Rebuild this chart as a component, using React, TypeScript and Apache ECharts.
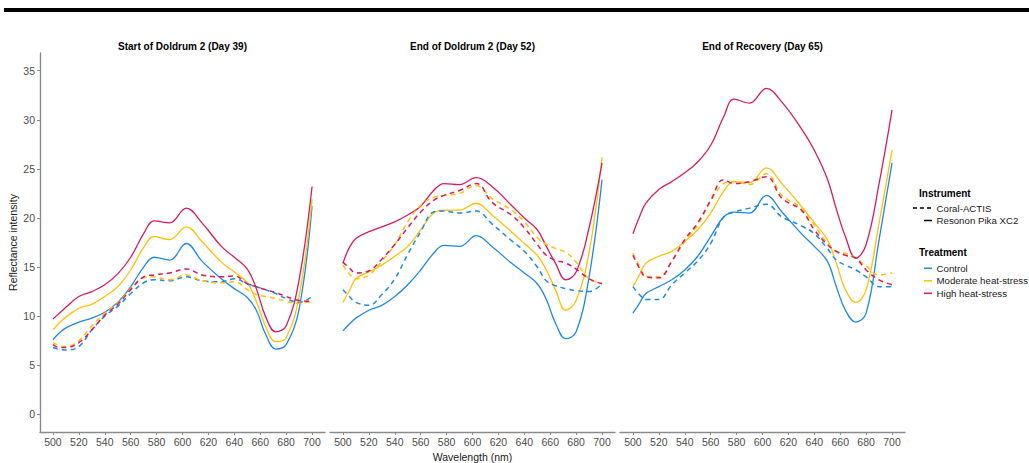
import React, { useEffect, useRef } from "react";
import * as echarts from "echarts";

// Sampled wavelengths (nm) shared by every spectrum
const wavelengths = [500, 505, 510, 520, 530, 540, 550, 560, 570, 578, 590, 603, 615, 630, 640, 650, 657, 664, 672, 680, 690, 700];

// Day 39 – Resonon Pika XC2 (solid)
const controlPika39 = [7.6, 8.3, 8.8, 9.4, 9.8, 10.4, 11.4, 13.0, 15.0, 16.0, 15.7, 17.4, 15.6, 13.8, 12.8, 11.9, 10.6, 8.2, 6.65, 7.1, 10.7, 21.2];
const moderatePika39 = [8.6, 9.3, 9.9, 10.8, 11.2, 12.0, 13.0, 14.7, 17.0, 18.1, 17.8, 19.1, 17.6, 15.5, 14.5, 13.4, 11.5, 9.0, 7.4, 7.8, 12.0, 21.9];
const highPika39 = [9.7, 10.3, 10.9, 12.0, 12.5, 13.2, 14.3, 16.0, 18.4, 19.7, 19.5, 21.0, 19.5, 17.1, 16.0, 14.8, 12.8, 10.0, 8.4, 9.0, 13.7, 23.2];
// Day 39 – Coral-ACTIS (dashed)
const controlActis39 = [6.8, 6.6, 6.55, 6.9, 8.6, 10.0, 11.0, 12.3, 13.4, 13.7, 13.6, 14.0, 13.6, 13.5, 13.8, 13.3, 13.0, 12.7, 12.3, 11.8, 11.4, 12.0];
const moderateActis39 = [7.3, 7.0, 6.9, 7.5, 9.0, 10.3, 11.3, 12.8, 13.9, 14.0, 13.7, 14.2, 13.6, 13.4, 13.5, 12.7, 12.2, 12.0, 11.8, 11.5, 11.3, 11.5];
const highActis39 = [7.1, 6.8, 6.8, 7.3, 8.6, 10.1, 11.2, 12.7, 14.0, 14.2, 14.4, 14.8, 14.2, 14.0, 14.1, 13.3, 13.0, 12.7, 12.4, 12.0, 11.6, 11.5];

// Day 52 – Resonon Pika XC2 (solid)
const controlPika52 = [8.5, 9.2, 9.8, 10.6, 11.1, 12.0, 13.2, 14.7, 16.4, 17.2, 17.1, 18.2, 17.1, 15.4, 14.4, 13.3, 11.7, 9.3, 7.7, 8.4, 14.0, 23.9];
const moderatePika52 = [11.4, 12.6, 13.8, 14.5, 15.2, 16.1, 17.1, 18.8, 20.5, 20.8, 20.8, 21.5, 20.3, 18.6, 17.4, 16.2, 14.7, 12.7, 10.6, 11.6, 16.5, 26.2];
const highPika52 = [15.4, 17.0, 17.9, 18.6, 19.1, 19.6, 20.3, 21.2, 22.8, 23.5, 23.4, 24.1, 23.2, 21.3, 20.0, 18.8, 17.1, 15.4, 13.7, 14.5, 19.0, 25.6];
// Day 52 – Coral-ACTIS (dashed)
const controlActis52 = [12.7, 12.0, 11.4, 11.1, 12.2, 13.8, 16.3, 18.6, 20.6, 20.7, 20.5, 20.7, 19.4, 17.7, 16.6, 15.0, 13.6, 13.1, 12.8, 12.6, 12.5, 13.3];
const moderateActis52 = [15.2, 14.3, 13.8, 14.2, 15.6, 17.3, 19.6, 21.3, 22.1, 22.3, 22.5, 23.3, 22.0, 20.8, 19.6, 18.0, 17.3, 16.9, 16.5, 15.5, 13.8, 13.4];
const highActis52 = [15.5, 14.9, 14.4, 14.6, 15.8, 17.3, 19.0, 20.6, 21.8, 22.3, 22.8, 23.5, 21.6, 20.3, 19.0, 17.3, 16.2, 15.7, 15.4, 14.8, 13.8, 13.3];

// Day 65 – Resonon Pika XC2 (solid)
const controlPika65 = [10.3, 11.3, 12.3, 13.0, 13.7, 14.7, 16.1, 18.1, 20.1, 20.6, 20.5, 22.3, 20.6, 18.4, 17.1, 15.6, 13.0, 10.6, 9.4, 10.3, 17.8, 25.6];
const moderatePika65 = [13.0, 14.2, 15.4, 16.1, 16.6, 17.6, 18.8, 20.5, 22.7, 23.7, 23.6, 25.1, 23.5, 21.2, 19.5, 17.8, 15.4, 12.7, 11.4, 12.7, 19.5, 26.9];
const highPika65 = [18.4, 20.1, 21.5, 22.9, 23.7, 24.6, 25.7, 27.4, 30.3, 32.1, 31.7, 33.2, 31.8, 29.1, 26.9, 24.0, 20.9, 18.1, 15.9, 17.3, 23.5, 31.0];
// Day 65 – Coral-ACTIS (dashed)
const controlActis65 = [13.0, 12.2, 11.7, 11.7, 13.2, 14.4, 15.6, 17.4, 20.1, 20.6, 21.0, 21.4, 20.1, 19.2, 18.4, 16.9, 15.7, 15.2, 14.7, 14.0, 13.0, 13.0];
const moderateActis65 = [16.4, 15.1, 14.1, 14.0, 15.6, 17.6, 19.3, 21.7, 23.5, 23.7, 23.4, 24.5, 22.3, 21.0, 19.3, 17.4, 16.6, 16.4, 15.9, 15.1, 14.2, 14.4];
const highActis65 = [16.2, 14.9, 14.0, 13.9, 15.6, 17.8, 19.5, 21.8, 23.9, 23.5, 23.7, 24.2, 22.0, 20.8, 18.8, 17.3, 16.6, 16.2, 15.9, 14.7, 13.7, 13.2];

const panelTitles = ["Start of Doldrum 2 (Day 39)", "End of Doldrum 2 (Day 52)", "End of Recovery (Day 65)"];
const treatments = ["Control", "Moderate heat-stress", "High heat-stress"];
const instruments = ["Coral-ACTIS", "Resonon Pika XC2"];
const xTicks = [500, 520, 540, 560, 580, 600, 620, 640, 660, 680, 700];
const yTicks = [0, 5, 10, 15, 20, 25, 30, 35];

const pikaByPanel = [
  [controlPika39, moderatePika39, highPika39],
  [controlPika52, moderatePika52, highPika52],
  [controlPika65, moderatePika65, highPika65],
];
const actisByPanel = [
  [controlActis39, moderateActis39, highActis39],
  [controlActis52, moderateActis52, highActis52],
  [controlActis65, moderateActis65, highActis65],
];

const treatmentColors = ["#1E88E5", "#FFC107", "#D81B60"];
const FONT = "'Liberation Sans', Arial, Helvetica, sans-serif";
const AXIS_GREY = "#8a8a8a";
const DASH = [5, 4];

const gridLeft = [40, 330, 620];
const gridTop = 53;
const gridWidth = 285;
const gridHeight = 379;

function buildOption(): echarts.EChartsCoreOption {
  const grids = gridLeft.map((left) => ({ left, top: gridTop, width: gridWidth, height: gridHeight, containLabel: false }));

  const xAxes = gridLeft.map((_, p) => ({
    gridIndex: p,
    type: "value",
    min: 490,
    max: 710,
    axisLine: { show: true, onZero: false, lineStyle: { color: AXIS_GREY, width: 1.4 } },
    axisTick: { show: true, length: 3, customValues: xTicks, lineStyle: { color: AXIS_GREY, width: 1 } },
    axisLabel: { customValues: xTicks, color: "#4d4d4d", fontSize: 10.5, fontFamily: FONT, margin: 4 },
    splitLine: { show: false },
  }));

  const yAxes = gridLeft.map((_, p) => ({
    gridIndex: p,
    type: "value",
    min: -1.8,
    max: 36.8,
    show: p === 0,
    axisLine: { show: true, onZero: false, lineStyle: { color: AXIS_GREY, width: 1.4 } },
    axisTick: { show: true, length: 3, customValues: yTicks, lineStyle: { color: AXIS_GREY, width: 1 } },
    axisLabel: { customValues: yTicks, color: "#4d4d4d", fontSize: 10.5, fontFamily: FONT, margin: 5 },
    splitLine: { show: false },
  }));

  const series: any[] = [];
  for (let p = 0; p < 3; p++) {
    for (let t = 0; t < 3; t++) {
      series.push({
        name: `${instruments[1]} – ${treatments[t]}`,
        type: "line",
        xAxisIndex: p,
        yAxisIndex: p,
        data: wavelengths.map((w, i) => [w, pikaByPanel[p][t][i]]),
        smooth: 0.4,
        showSymbol: false,
        silent: true,
        lineStyle: { color: treatmentColors[t], width: 1.3, type: "solid" },
        z: 2,
      });
    }
    for (let t = 0; t < 3; t++) {
      series.push({
        name: `${instruments[0]} – ${treatments[t]}`,
        type: "line",
        xAxisIndex: p,
        yAxisIndex: p,
        data: wavelengths.map((w, i) => [w, actisByPanel[p][t][i]]),
        smooth: 0.4,
        showSymbol: false,
        silent: true,
        lineStyle: { color: treatmentColors[t], width: 1.5, type: DASH },
        z: 3,
      });
    }
  }

  const legendFont = `9.7px ${FONT}`;
  const graphic: any[] = [
    { type: "rect", left: 4, top: 8, shape: { x: 0, y: 0, width: 1025, height: 4 }, style: { fill: "#000" }, silent: true },
    ...panelTitles.map((title, p) => ({
      type: "text",
      x: gridLeft[p] + gridWidth / 2,
      y: 46,
      silent: true,
      style: { text: title, fill: "#000", font: `bold 10px ${FONT}`, textAlign: "center", textVerticalAlign: "middle" },
    })),
    {
      type: "text",
      x: 13,
      y: gridTop + gridHeight / 2,
      rotation: Math.PI / 2,
      silent: true,
      style: { text: "Reflectance intensity", fill: "#1a1a1a", font: `10.5px ${FONT}`, textAlign: "center", textVerticalAlign: "middle" },
    },
    {
      type: "text",
      x: gridLeft[1] + gridWidth / 2,
      y: 457,
      silent: true,
      style: { text: "Wavelength (nm)", fill: "#1a1a1a", font: `10.5px ${FONT}`, textAlign: "center", textVerticalAlign: "middle" },
    },
    // Instrument legend
    { type: "text", x: 919, y: 193, silent: true, style: { text: "Instrument", fill: "#000", font: `bold 10px ${FONT}`, textVerticalAlign: "middle" } },
    { type: "line", silent: true, shape: { x1: 913, y1: 208, x2: 933, y2: 208 }, style: { stroke: "#000", lineWidth: 1.5, lineDash: [4, 3] } },
    { type: "text", x: 936.5, y: 208, silent: true, style: { text: instruments[0], fill: "#1a1a1a", font: legendFont, textVerticalAlign: "middle" } },
    { type: "line", silent: true, shape: { x1: 924, y1: 220.5, x2: 932, y2: 220.5 }, style: { stroke: "#000", lineWidth: 1.5 } },
    { type: "text", x: 936.5, y: 220.5, silent: true, style: { text: instruments[1], fill: "#1a1a1a", font: legendFont, textVerticalAlign: "middle" } },
    // Treatment legend
    { type: "text", x: 919, y: 252.5, silent: true, style: { text: "Treatment", fill: "#000", font: `bold 10px ${FONT}`, textVerticalAlign: "middle" } },
    ...treatments.flatMap((name, t) => {
      const y = 268.3 + t * 12.5;
      return [
        { type: "line", silent: true, shape: { x1: 924, y1: y, x2: 932, y2: y }, style: { stroke: treatmentColors[t], lineWidth: 1.5 } },
        { type: "text", x: 936.5, y, silent: true, style: { text: name, fill: "#1a1a1a", font: legendFont, textVerticalAlign: "middle" } },
      ];
    }),
  ];

  return {
    animation: false,
    backgroundColor: "#ffffff",
    textStyle: { fontFamily: FONT },
    grid: grids,
    xAxis: xAxes,
    yAxis: yAxes,
    series,
    graphic,
  };
}

export default function App() {
  const ref = useRef<HTMLDivElement>(null);

  useEffect(() => {
    document.body.style.margin = "0";
    if (!ref.current) return;
    const chart = echarts.init(ref.current, undefined, { renderer: "svg" });
    chart.setOption(buildOption());
    return () => chart.dispose();
  }, []);

  return <div ref={ref} style={{ width: 1029, height: 463 }} />;
}
